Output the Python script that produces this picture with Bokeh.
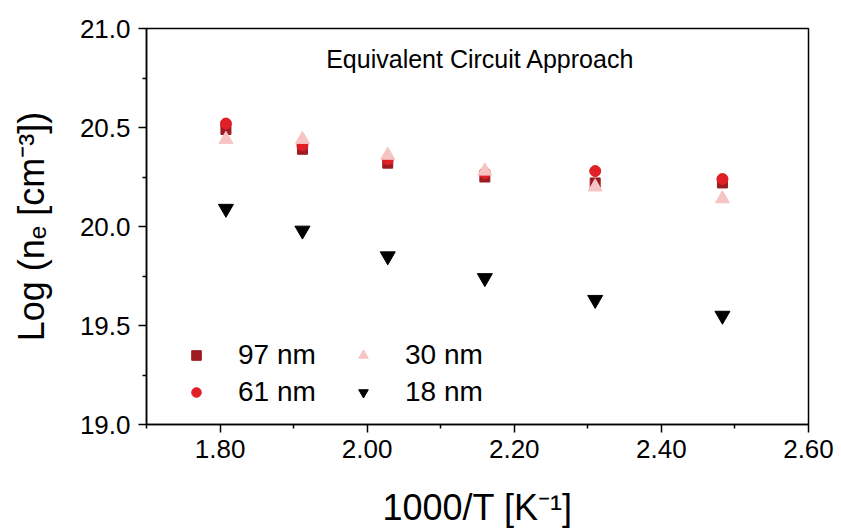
from bokeh.plotting import figure
from bokeh.models import (FixedTicker, PrintfTickFormatter, Legend, LegendItem, Label, Range1d)
from bokeh.embed import file_html
from bokeh.resources import INLINE

# data: x = 1000/T [K^-1], y = Log(n_e [cm^-3])
x_vals = [1.808, 1.912, 2.028, 2.160, 2.310, 2.483]
y_97nm = [20.49, 20.39, 20.32, 20.25, 20.22, 20.22]
y_61nm = [20.52, 20.41, 20.34, 20.27, 20.28, 20.24]
y_30nm = [20.44, 20.44, 20.36, 20.28, 20.20, 20.14]
y_18nm = [20.09, 19.98, 19.85, 19.74, 19.63, 19.55]

x_major = [1.8, 2.0, 2.2, 2.4, 2.6]
x_minor = [1.7, 1.9, 2.1, 2.3, 2.5]
y_major = [19.0, 19.5, 20.0, 20.5, 21.0]
y_minor = [19.25, 19.75, 20.25, 20.75]

FONT = "Liberation Sans"

p = figure(width=841, height=530, output_backend="svg", toolbar_location=None,
           x_range=Range1d(1.70, 2.60), y_range=Range1d(19.0, 21.0),
           min_border_left=146, min_border_right=33, min_border_top=28, min_border_bottom=105)
p.grid.visible = False
p.outline_line_color = "black"
p.outline_line_width = 1.5

r97 = p.scatter(x_vals, y_97nm, marker="square", size=10, color="#9E1B22")
r61 = p.scatter(x_vals, y_61nm, marker="circle", size=11, color="#E01F26")
r30 = p.scatter(x_vals, y_30nm, marker="triangle", size=14, color="#F7C4C4")
r18 = p.scatter(x_vals, y_18nm, marker="inverted_triangle", size=15, color="black")

for ax in (p.xaxis[0], p.yaxis[0]):
    ax.axis_line_width = 1.5
    ax.major_tick_line_width = 1.5
    ax.minor_tick_line_width = 1.5
    ax.major_tick_in = 0
    ax.major_tick_out = 8
    ax.minor_tick_in = 0
    ax.minor_tick_out = 4
    ax.major_label_text_font = FONT
    ax.major_label_text_font_size = "26px"
    ax.major_label_text_color = "black"
    ax.axis_label_text_font = FONT
    ax.axis_label_text_font_size = "36px"
    ax.axis_label_text_font_style = "normal"
    ax.axis_label_text_color = "black"

p.xaxis.ticker = FixedTicker(ticks=x_major, minor_ticks=x_minor)
p.yaxis.ticker = FixedTicker(ticks=y_major, minor_ticks=y_minor)
p.xaxis.formatter = PrintfTickFormatter(format="%.2f")
p.yaxis.formatter = PrintfTickFormatter(format="%.1f")
p.xaxis.axis_label = "1000/T [K\u207b\u00b9]"
p.yaxis.axis_label = "Log (n\u2091 [cm\u207b\u00b3])"
p.xaxis.major_label_standoff = 7
p.yaxis.major_label_standoff = 8
p.xaxis.axis_label_standoff = 26
p.yaxis.axis_label_standoff = 25

title = Label(x=2.154, y=20.844, text="Equivalent Circuit Approach",
              text_font=FONT, text_font_size="25px", text_align="center",
              text_baseline="middle", text_color="black")
p.add_layout(title)

legend = Legend(items=[
    LegendItem(label="97 nm", renderers=[r97]),
    LegendItem(label="61 nm", renderers=[r61]),
    LegendItem(label="30 nm", renderers=[r30]),
    LegendItem(label="18 nm", renderers=[r18]),
], ncols=2, location=(38, 16), label_text_font=FONT, label_text_font_size="28px",
    label_text_color="black",
    glyph_width=24, glyph_height=24, label_standoff=30, label_width=108, spacing=5,
    padding=0, margin=0, border_line_color=None, background_fill_alpha=0)
p.add_layout(legend)

open("out.html", "w").write(file_html(p, INLINE))
